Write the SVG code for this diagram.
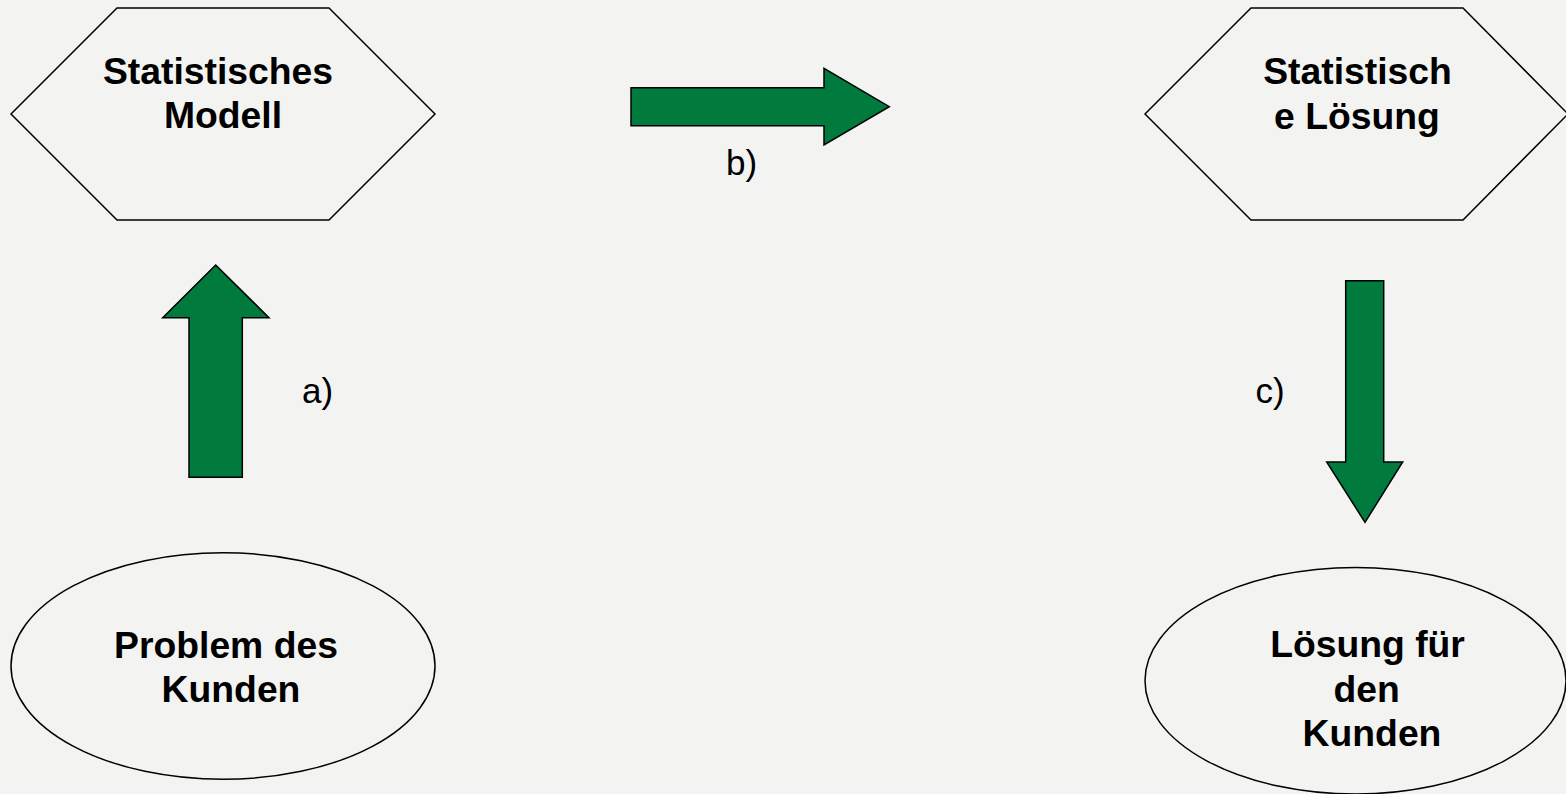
<svg xmlns="http://www.w3.org/2000/svg" width="1566" height="794" viewBox="0 0 1566 794">
<style>
.shape{fill:#f3f3f1;stroke:#000;stroke-width:1.5}
.arrow{fill:#007a3d;stroke:#000;stroke-width:1.5;stroke-linejoin:miter}
.t{font-family:"Liberation Sans",Arial,sans-serif;font-weight:bold;font-size:37.3px;fill:#000;text-anchor:middle}
.lbl{font-family:"Liberation Sans",Arial,sans-serif;font-size:35px;fill:#000}
</style>
<rect width="1566" height="794" fill="#f3f3f1"/>
<g id="node-modell">
<polygon class="shape" points="117,8 329,8 435,114 329,220 117,220 11,114"/>
<text class="t" x="218" y="83.5">Statistisches</text>
<text class="t" x="223" y="128">Modell</text>
</g>
<g id="node-loesung">
<polygon class="shape" points="1251,8 1463,8 1568,114 1463,220 1251,220 1145,114"/>
<text class="t" x="1357.5" y="84">Statistisch</text>
<text class="t" x="1357" y="128.5">e Lösung</text>
</g>
<g id="node-problem">
<ellipse class="shape" cx="223" cy="666" rx="212" ry="113.3"/>
<text class="t" x="226" y="658">Problem des</text>
<text class="t" x="231" y="702">Kunden</text>
</g>
<g id="node-kundenloesung">
<ellipse class="shape" cx="1355.5" cy="680.7" rx="210.5" ry="113.3"/>
<text class="t" x="1367.5" y="657">Lösung für</text>
<text class="t" x="1366.7" y="701.5">den</text>
<text class="t" x="1372" y="746">Kunden</text>
</g>
<g id="connectors">
<polygon class="arrow" points="215.7,265 269,317.7 242.3,317.7 242.3,477.3 189,477.3 189,317.7 162.7,317.7"/>
<text class="lbl" x="302" y="403">a)</text>
<polygon class="arrow" points="631,87.7 824,87.7 824,68.3 889.3,106.7 824,145 824,125.7 631,125.7"/>
<text class="lbl" x="726" y="175">b)</text>
<polygon class="arrow" points="1345.7,280.7 1383.7,280.7 1383.7,462 1402.7,462 1365,522.3 1326.7,462 1345.7,462"/>
<text class="lbl" x="1255.5" y="403">c)</text>
</g>
</svg>
